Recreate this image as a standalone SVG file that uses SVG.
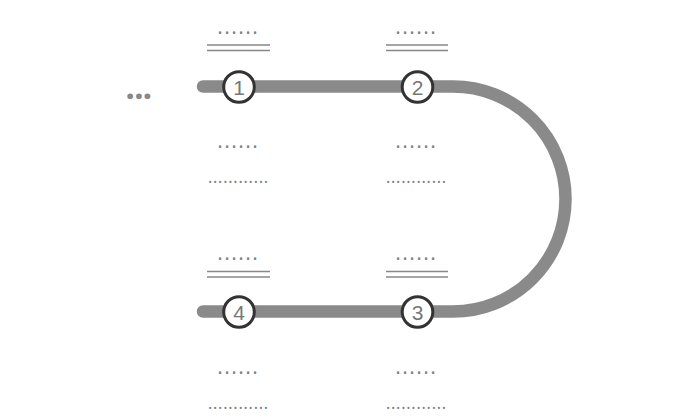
<svg xmlns="http://www.w3.org/2000/svg" width="688" height="419" viewBox="0 0 688 419">
<style>
.track{fill:none;stroke:#8a8a8a;stroke-width:12.5;stroke-linecap:round}
.ring{fill:#fff;stroke:#333;stroke-width:3}
.num{font-family:"Liberation Sans",Arial,sans-serif;font-size:21px;fill:#777;text-anchor:middle}
.d6{font-family:"Noto Sans",sans-serif;font-size:19px;fill:#7e7e7e;letter-spacing:1.9px}
.d12{font-family:"Noto Sans",sans-serif;font-size:16px;fill:#7e7e7e;letter-spacing:0.8px}
.dbl{stroke:#888;stroke-width:1.3;fill:none}
.ell{font-family:"Noto Sans",sans-serif;font-size:33px;font-weight:bold;fill:#888;letter-spacing:-0.6px}
</style>
<rect width="688" height="419" fill="#fff"/>
<g id="connectors">
<path class="track" d="M203,86.5 H453 A112.5,112.5 0 0 1 453,311.5 H203"/>
</g>
<text class="ell" x="125.5" y="99">...</text>
<g id="node1">
<text class="d6" x="217.5" y="34.3">......</text>
<path class="dbl" d="M207,45 H270 M207,50.5 H270"/>
<circle class="ring" cx="239" cy="87" r="15.3"/>
<text class="num" x="239" y="94.6">1</text>
<text class="d6" x="217.5" y="148.3">......</text>
<text class="d12" x="207.9" y="182.8">............</text>
</g>
<g id="node2">
<text class="d6" x="395.5" y="34.3">......</text>
<path class="dbl" d="M386,45 H448 M386,50.5 H448"/>
<circle class="ring" cx="417.5" cy="87" r="15.3"/>
<text class="num" x="417.5" y="94.6">2</text>
<text class="d6" x="395.5" y="148.3">......</text>
<text class="d12" x="385.9" y="182.8">............</text>
</g>
<g id="node3">
<text class="d6" x="395.5" y="259.5">......</text>
<path class="dbl" d="M386,271.5 H448 M386,277 H448"/>
<circle class="ring" cx="417.5" cy="312" r="15.3"/>
<text class="num" x="417.5" y="319.6">3</text>
<text class="d6" x="395.5" y="374">......</text>
<text class="d12" x="385.9" y="408.6">............</text>
</g>
<g id="node4">
<text class="d6" x="217.5" y="259.5">......</text>
<path class="dbl" d="M207,271.5 H270 M207,277 H270"/>
<circle class="ring" cx="239" cy="312" r="15.3"/>
<text class="num" x="239" y="319.6">4</text>
<text class="d6" x="217.5" y="374">......</text>
<text class="d12" x="207.9" y="408.6">............</text>
</g>
</svg>
